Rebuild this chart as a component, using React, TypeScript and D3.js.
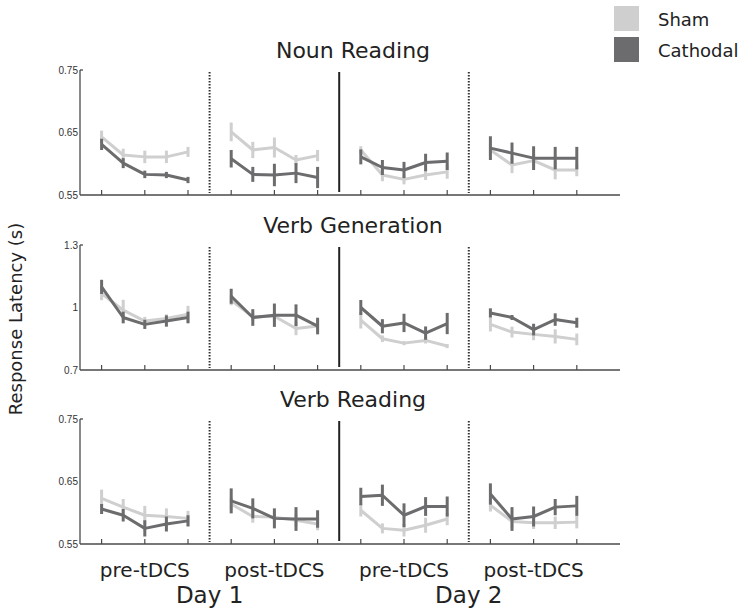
import React from "react";
import * as d3 from "d3";

// ---- data ----
const panelTitles = ["Noun Reading", "Verb Generation", "Verb Reading"];
const yDomains: [number, number][] = [[0.55, 0.75], [0.7, 1.3], [0.55, 0.75]];
const yTickLabels = [["0.55", "0.65", "0.75"], ["0.7", "1", "1.3"], ["0.55", "0.65", "0.75"]];
const sessionLabels = ["pre-tDCS", "post-tDCS", "pre-tDCS", "post-tDCS"];
const dayLabels = ["Day 1", "Day 2"];
const seriesNames = ["Sham", "Cathodal"];

// values per panel: 4 sessions x 5 blocks
const shamMean = [
  [[0.643, 0.614, 0.611, 0.611, 0.619], [0.651, 0.622, 0.626, 0.606, 0.613], [0.622, 0.582, 0.575, 0.582, 0.587], [0.622, 0.598, 0.605, 0.59, 0.59]],
  [[1.067, 0.987, 0.935, 0.947, 0.968], [1.035, 0.955, 0.958, 0.899, 0.911], [0.939, 0.85, 0.829, 0.842, 0.815], [0.919, 0.882, 0.871, 0.861, 0.847]],
  [[0.623, 0.609, 0.596, 0.594, 0.591], [0.614, 0.594, 0.593, 0.588, 0.582], [0.604, 0.575, 0.572, 0.58, 0.59], [0.612, 0.586, 0.584, 0.584, 0.585]],
];
const shamErr = [
  [[0.01, 0.01, 0.01, 0.01, 0.008], [0.015, 0.013, 0.016, 0.008, 0.009], [0.006, 0.01, 0.008, 0.008, 0.011], [0.01, 0.013, 0.01, 0.015, 0.01]],
  [[0.032, 0.05, 0.02, 0.02, 0.04], [0.024, 0.02, 0.02, 0.032, 0.028], [0.04, 0.016, 0.01, 0.015, 0.01], [0.034, 0.026, 0.028, 0.034, 0.028]],
  [[0.014, 0.013, 0.015, 0.013, 0.012], [0.01, 0.01, 0.01, 0.01, 0.01], [0.01, 0.008, 0.01, 0.012, 0.01], [0.01, 0.01, 0.01, 0.01, 0.01]],
];
const cathMean = [
  [[0.631, 0.601, 0.583, 0.582, 0.574], [0.608, 0.583, 0.582, 0.585, 0.578], [0.611, 0.594, 0.59, 0.602, 0.604], [0.625, 0.617, 0.609, 0.609, 0.609]],
  [[1.099, 0.952, 0.919, 0.935, 0.952], [1.054, 0.952, 0.963, 0.963, 0.911], [1.0, 0.91, 0.926, 0.877, 0.923], [0.974, 0.952, 0.894, 0.942, 0.927]],
  [[0.606, 0.596, 0.575, 0.582, 0.587], [0.619, 0.607, 0.591, 0.59, 0.59], [0.626, 0.628, 0.596, 0.61, 0.61], [0.63, 0.59, 0.594, 0.609, 0.611]],
];
const cathErr = [
  [[0.009, 0.008, 0.006, 0.005, 0.005], [0.014, 0.012, 0.018, 0.016, 0.017], [0.012, 0.012, 0.013, 0.014, 0.014], [0.019, 0.017, 0.019, 0.018, 0.018]],
  [[0.034, 0.028, 0.022, 0.027, 0.028], [0.036, 0.04, 0.056, 0.052, 0.04], [0.036, 0.034, 0.044, 0.032, 0.051], [0.022, 0.012, 0.028, 0.03, 0.024]],
  [[0.008, 0.01, 0.013, 0.012, 0.009], [0.02, 0.016, 0.016, 0.019, 0.014], [0.014, 0.017, 0.019, 0.015, 0.016], [0.017, 0.019, 0.016, 0.013, 0.016]],
];

// ---- style / layout ----
const W = 747, H = 609;
const SHAM = "#cfcfcf";
const CATH = "#6c6c6f";
const AXIS = "#4a4a4a";
const FONT = "'DejaVu Sans', Verdana, sans-serif";
const TICKFONT = "'Liberation Sans', Arial, sans-serif";
const panelTops = [70, 245, 419];
const panelH = 125;
const x = d3.scaleLinear().domain([-1, 24]).range([80, 620]);
const idx = (s: number, b: number) => s * 6 + b;

function Panel({ p }: { p: number }) {
  const top = panelTops[p];
  const bottom = top + panelH;
  const y = d3.scaleLinear().domain(yDomains[p]).range([bottom, top]);
  const yTicks = yTickLabels[p].map(Number);
  const line = d3.line<[number, number]>().x((d) => d[0]).y((d) => d[1]);
  const series = [
    { mean: shamMean[p], err: shamErr[p], color: SHAM },
    { mean: cathMean[p], err: cathErr[p], color: CATH },
  ];
  const majorTicks = d3.range(4).flatMap((s) => [0, 2, 4].map((b) => idx(s, b)));
  return (
    <g>
      <text x={353} y={top - 12} textAnchor="middle" fontFamily={FONT} fontSize={22} fill="#222">
        {panelTitles[p]}
      </text>
      {/* dividers */}
      {[5, 17].map((i) => (
        <line key={i} x1={x(i)} x2={x(i)} y1={top + 2} y2={bottom - 2} stroke="#333" strokeWidth={2} strokeDasharray="1.5,1.5" />
      ))}
      <line x1={x(11)} x2={x(11)} y1={top + 2} y2={bottom - 3} stroke="#222" strokeWidth={2} />
      {/* series */}
      {series.map((sr, si) => (
        <g key={si}>
          {sr.mean.map((vals, s) => {
            const pts: [number, number][] = vals.map((v, b) => [x(idx(s, b)), y(v)]);
            return (
              <g key={s}>
                <path d={line(pts) || ""} fill="none" stroke={sr.color} strokeWidth={3} strokeLinejoin="round" />
                {vals.map((v, b) => (
                  <line key={b} x1={x(idx(s, b))} x2={x(idx(s, b))} y1={y(v - sr.err[s][b])} y2={y(v + sr.err[s][b])} stroke={sr.color} strokeWidth={3} />
                ))}
              </g>
            );
          })}
        </g>
      ))}
      {/* axes */}
      <line x1={x(-1)} x2={x(-1)} y1={top} y2={bottom} stroke={AXIS} strokeWidth={1.3} />
      <line x1={x(-1)} x2={x(-1) + 3} y1={y(yTicks[2])} y2={y(yTicks[2])} stroke={AXIS} strokeWidth={1.3} />
      <line x1={x(-1)} x2={x(24)} y1={bottom} y2={bottom} stroke={AXIS} strokeWidth={1.5} />
      {majorTicks.map((i) => (
        <line key={i} x1={x(i)} x2={x(i)} y1={bottom} y2={bottom - 5} stroke={AXIS} strokeWidth={1.2} />
      ))}
      {yTicks.map((t, k) => (
        <text key={k} x={x(-1) - 2} y={y(t) + 3.5} textAnchor="end" fontFamily={TICKFONT} fontSize={10} fill="#333">
          {yTickLabels[p][k]}
        </text>
      ))}
    </g>
  );
}

export default function App() {
  return (
    <svg width={W} height={H} style={{ position: "absolute", left: 0, top: 0, background: "#fff" }}>
      <rect width={W} height={H} fill="#fff" />
      {[0, 1, 2].map((p) => (
        <Panel key={p} p={p} />
      ))}
      {/* legend */}
      {seriesNames.map((n, i) => (
        <g key={n}>
          <rect x={614} y={6 + i * 31} width={25} height={25} fill={i === 0 ? SHAM : CATH} />
          <text x={658} y={26 + i * 31} fontFamily={FONT} fontSize={18} fill="#222">
            {n}
          </text>
        </g>
      ))}
      {/* y label */}
      <text transform={`translate(22,${319}) rotate(-90)`} textAnchor="middle" fontFamily={FONT} fontSize={18} fill="#222">
        Response Latency (s)
      </text>
      {/* session labels */}
      {sessionLabels.map((s, i) => (
        <text key={i} x={x(idx(i, 2))} y={577} textAnchor="middle" fontFamily={FONT} fontSize={20} fill="#222">
          {s}
        </text>
      ))}
      {dayLabels.map((d, i) => (
        <text key={i} x={x(5 + i * 12)} y={603} textAnchor="middle" fontFamily={FONT} fontSize={23} fill="#222">
          {d}
        </text>
      ))}
    </svg>
  );
}
